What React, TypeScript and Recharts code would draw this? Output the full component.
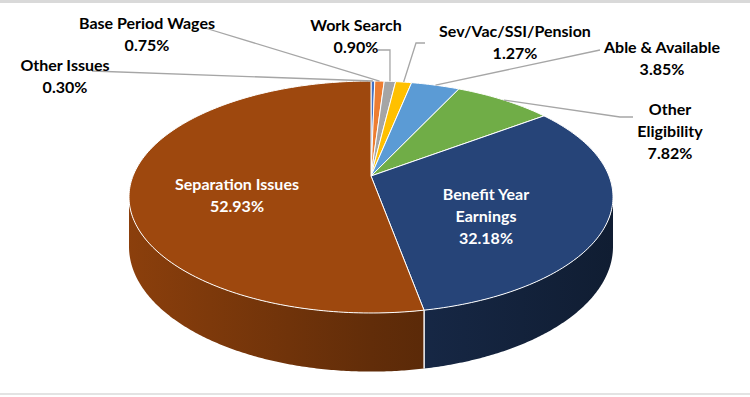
import { PieChart, Pie } from 'recharts'

const issues = [
  'Other Issues',
  'Base Period Wages',
  'Work Search',
  'Sev/Vac/SSI/Pension',
  'Able & Available',
  'Other Eligibility',
  'Benefit Year Earnings',
  'Separation Issues',
]
const shares = [0.3, 0.75, 0.9, 1.27, 3.85, 7.82, 32.18, 52.93]
const colors = ['#4472C4', '#ED7D31', '#A5A5A5', '#FFC000', '#5B9BD5', '#70AD47', '#264478', '#9E480E']

const data = issues.map((name, i) => ({ name, value: shares[i], fill: colors[i] }))

// where each label sits (Excel had them placed by hand)
const spots = [
  { x: 65, y: 64, wrap: 2, from: [92, 71], hook: 0, color: '#000' },
  { x: 147, y: 22, wrap: 3, from: [205, 28], hook: 0, color: '#000' },
  { x: 356, y: 24, wrap: 2, from: [378, 50], hook: 'x', color: '#000' },
  { x: 515, y: 30, wrap: 1, from: [425, 43], hook: 416, color: '#000' },
  { x: 662, y: 46, wrap: 3, from: [600, 50], hook: 0, color: '#000' },
  { x: 670, y: 108, wrap: 1, from: [633, 117], hook: 620, color: '#000' },
  { x: 486, y: 193, wrap: 2, from: null, hook: 0, color: '#fff' },
  { x: 237, y: 183, wrap: 2, from: null, hook: 0, color: '#fff' },
]

// fake 3d: flattened disc with a bit of perspective
const TILT = 0.4714
const PERSP = 0.181
const DEPTH = 48
const LINE_H = 22

function project(cx: number, cy: number, r: number, deg: number) {
  const a = (deg * Math.PI) / 180
  const u = Math.cos(a)
  const v = -Math.sin(a)
  const s = 1 / (1 - PERSP * v)
  return { x: cx + r * u * s, y: cy + r * TILT * v * s, u, v, s }
}

function shade(hex: string, f: number) {
  const n = parseInt(hex.slice(1), 16)
  const ch = [(n >> 16) & 255, (n >> 8) & 255, n & 255].map((c) => Math.round(Math.min(255, c * f)))
  return `rgb(${ch[0]},${ch[1]},${ch[2]})`
}

function TopFace(props: any) {
  const { cx, cy, outerRadius, startAngle, endAngle, fill } = props
  const steps = Math.max(2, Math.ceil(Math.abs(endAngle - startAngle)))
  let d = `M${cx},${cy}`
  for (let i = 0; i <= steps; i++) {
    const p = project(cx, cy, outerRadius, startAngle + ((endAngle - startAngle) * i) / steps)
    d += `L${p.x.toFixed(2)},${p.y.toFixed(2)}`
  }
  return <path d={d + 'Z'} fill={fill} stroke="#fff" strokeWidth={1} strokeLinejoin="round" />
}

function SideWall(props: any) {
  const { cx, cy, outerRadius, startAngle, endAngle, fill } = props
  const lo = Math.min(startAngle, endAngle)
  const hi = Math.max(startAngle, endAngle)
  const e = (Math.asin(PERSP) * 180) / Math.PI
  const a0 = Math.max(lo, -180 + e)
  const a1 = Math.min(hi, -e)
  if (a1 <= a0) return <g />
  const n = Math.ceil((a1 - a0) * 2)
  const top = []
  const bottom = []
  for (let i = 0; i <= n; i++) {
    const p = project(cx, cy, outerRadius, a0 + ((a1 - a0) * i) / n)
    top.push(`${p.x.toFixed(2)},${p.y.toFixed(2)}`)
    bottom.unshift(`${p.x.toFixed(2)},${(p.y + DEPTH * p.s).toFixed(2)}`)
  }
  const gid = 'side' + String(fill).slice(1)
  const edges = [lo, hi]
    .filter((a) => a >= -180 + e && a <= -e)
    .map((a) => {
      const p = project(cx, cy, outerRadius, a)
      return <line key={'e' + a} x1={p.x} y1={p.y} x2={p.x} y2={p.y + DEPTH * p.s} stroke="#fff" strokeWidth={1.2} />
    })
  return (
    <g>
      <defs>
        <linearGradient id={gid} gradientUnits="userSpaceOnUse" x1={cx - outerRadius * 1.02} y1={0} x2={cx + outerRadius * 1.02} y2={0}>
          <stop offset="0" stopColor={shade(fill, 0.88)} />
          <stop offset="0.5" stopColor={shade(fill, 0.62)} />
          <stop offset="1" stopColor={shade(fill, 0.42)} />
        </linearGradient>
      </defs>
      <polygon points={top.concat(bottom).join(' ')} fill={`url(#${gid})`} />
      {edges}
    </g>
  )
}

const renderLabel = (props: any) => {
  const { cx, cy, outerRadius, midAngle, index, name, value } = props
  const spot = spots[index]
  const words = String(name).split(' ')
  const lines = [words.slice(0, spot.wrap).join(' '), words.slice(spot.wrap).join(' '), `${Number(value).toFixed(2)}%`].filter(
    (l) => l.length > 0
  )
  let leader = null
  if (spot.from) {
    const tip = project(cx, cy, outerRadius, midAngle)
    const pts = [spot.from]
    if (spot.hook === 'x') pts.push([tip.x, spot.from[1]])
    else if (spot.hook) pts.push([spot.hook as number, spot.from[1]])
    pts.push([tip.x, tip.y])
    leader = <polyline points={pts.map((p) => p.join(',')).join(' ')} fill="none" stroke="#a6a6a6" strokeWidth={1.3} />
  }
  return (
    <g key={'lbl' + index}>
      {leader}
      {lines.map((l, i) => (
        <text
          key={i}
          x={spot.x}
          y={spot.y + i * LINE_H}
          textAnchor="middle"
          dominantBaseline="central"
          fill={spot.color}
          fontFamily="Lato, sans-serif"
          fontWeight={700}
          fontSize={16}
        >
          {l}
        </text>
      ))}
    </g>
  )
}

export default function App() {
  return (
    <div style={{ position: 'absolute', left: 0, top: 0, width: 750, height: 397, background: '#fff' }}>
      <div style={{ position: 'absolute', left: 0, top: 0, width: 750, height: 3, background: '#d9d9d9' }} />
      <div style={{ position: 'absolute', left: 0, top: 393, width: 750, height: 2, background: '#e3e3e3' }} />
      <PieChart width={750} height={397} margin={{ top: 0, right: 0, bottom: 0, left: 0 }}>
        <Pie
          data={data}
          dataKey="value"
          nameKey="name"
          cx={371}
          cy={176}
          outerRadius={238}
          startAngle={90}
          endAngle={-270}
          stroke="none"
          shape={SideWall}
          isAnimationActive={false}
        />
        <Pie
          data={data}
          dataKey="value"
          nameKey="name"
          cx={371}
          cy={176}
          outerRadius={238}
          startAngle={90}
          endAngle={-270}
          stroke="none"
          shape={TopFace}
          label={renderLabel}
          labelLine={false}
          isAnimationActive={false}
        />
      </PieChart>
    </div>
  )
}
